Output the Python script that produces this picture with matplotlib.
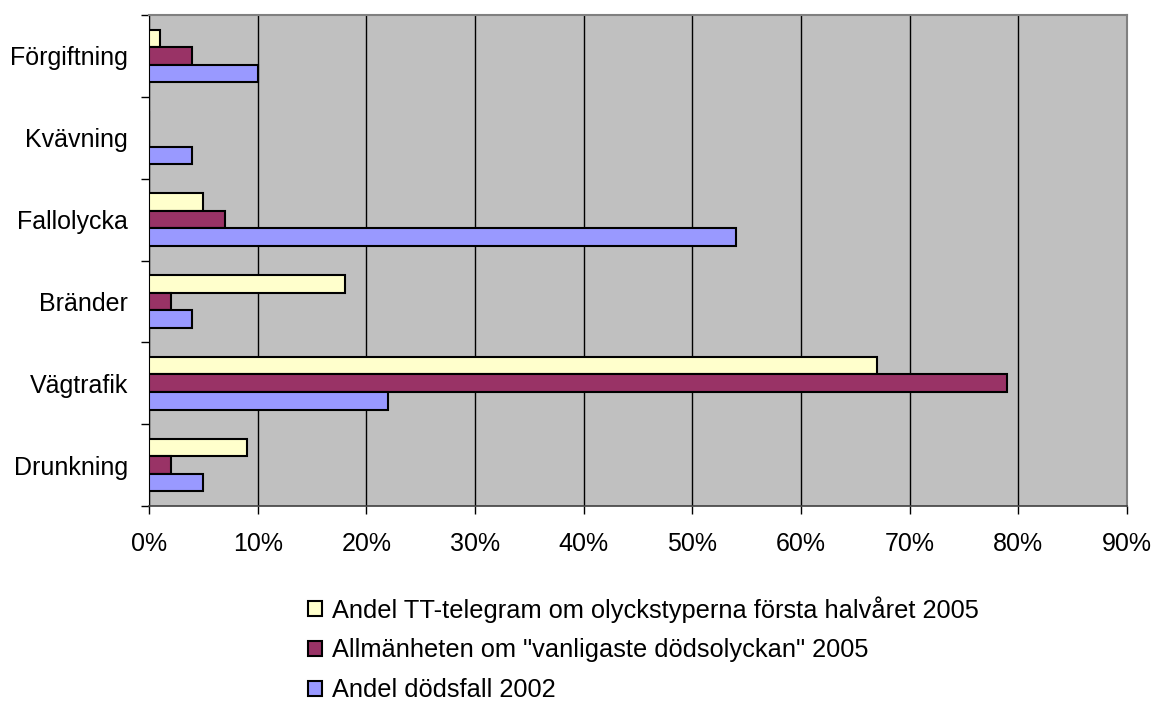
import matplotlib
matplotlib.use("Agg")
import matplotlib.pyplot as plt
import numpy as np
from matplotlib.ticker import FuncFormatter, MultipleLocator

plt.rcParams['font.family'] = ['Liberation Sans', 'DejaVu Sans']

categories = ["Drunkning", "Vägtrafik", "Bränder", "Fallolycka", "Kvävning", "Förgiftning"]
series_names = [
    "Andel TT-telegram om olyckstyperna första halvåret 2005",
    "Allmänheten om \"vanligaste dödsolyckan\" 2005",
    "Andel dödsfall 2002",
]
tt_telegram = [9, 67, 18, 5, 0, 1]
allmanheten = [2, 79, 2, 7, 0, 4]
dodsfall = [5, 22, 4, 54, 4, 10]
colors = ["#FFFFCC", "#993366", "#9999FF"]

FS = 18

fig = plt.figure(figsize=(11.55, 7.04), dpi=100)
ax = fig.add_axes([149/1155, 198/704, (1127-149)/1155, (506-15)/704])
ax.set_facecolor("#C0C0C0")

y = np.arange(len(categories))
h = 0.215
offsets = [h, 0, -h]
for vals, off, c, name in zip([tt_telegram, allmanheten, dodsfall], offsets, colors, series_names):
    ax.barh(y + off, vals, height=h, color=c, edgecolor="black", linewidth=1.5, label=name, zorder=3)

ax.set_xlim(0, 90)
ax.set_ylim(-0.5, len(categories) - 0.5)
ax.xaxis.set_major_locator(MultipleLocator(10))
ax.xaxis.set_major_formatter(FuncFormatter(lambda v, p: f"{int(round(v))}%"))
ax.grid(axis="x", color="black", linewidth=1, zorder=1)
ax.set_yticks(y)
ax.set_yticklabels(categories)
ax.set_yticks(np.arange(-0.5, len(categories)), minor=True)
ax.tick_params(axis="y", which="major", length=0, pad=15, labelsize=FS)
ax.tick_params(axis="y", which="minor", length=6, width=1, color="black")
ax.tick_params(axis="x", length=6, width=1, pad=13, labelsize=FS, color="black")

for s in ["top", "right"]:
    ax.spines[s].set_color("#808080")
    ax.spines[s].set_linewidth(1.5)
ax.spines["left"].set_color("black")
ax.spines["bottom"].set_color("#404040")
ax.spines["bottom"].set_linewidth(1.2)

leg = fig.legend(loc="upper left", bbox_to_anchor=(308/1155, 1 - 596/704), frameon=False,
                 fontsize=18.3, handlelength=0.55, handleheight=0.55, handletextpad=0.4,
                 labelspacing=0.62, borderaxespad=0, borderpad=0)

fig.savefig("out.png", dpi=100)
